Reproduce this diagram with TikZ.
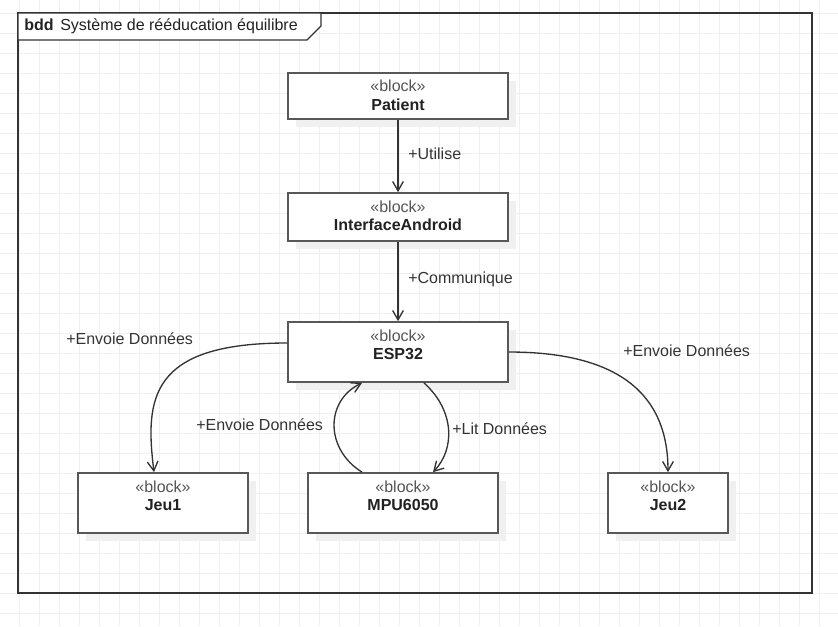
\documentclass[tikz,border=0pt]{standalone}
\usepackage{fontspec}
\setmainfont{Liberation Sans}
\usetikzlibrary{arrows.meta,shadows}
\definecolor{gridgray}{HTML}{F0F0F0}
\definecolor{shadowgray}{HTML}{F0F0F0}
\definecolor{boxline}{HTML}{585858}
\definecolor{wire}{HTML}{333333}
\definecolor{ink}{HTML}{222222}
\definecolor{stereo}{HTML}{555555}
\newcommand{\blk}[1]{\textcolor{stereo}{«block»}\\\textbf{#1}}
\begin{document}
\begin{tikzpicture}[x = 0.75pt, y = -0.75pt,
    font = \fontsize{12}{13.5}\selectfont, text = ink,
    block/.style = {draw = boxline, line width = 1.3pt, fill = white, inner sep = 0pt,
      general shadow = {fill = shadowgray, shadow xshift = 6pt, shadow yshift = -6pt}},
    blocktext/.style = {anchor = north, align = center, inner sep = 0pt, yshift = -6pt},
    assoc/.style = {draw = wire, line width = 1pt, -{Straight Barb[length = 7pt, width = 8pt]}},
    role/.style = {anchor = west, inner sep = 0pt, text = wire}]
      \useasboundingbox (0, 0) rectangle (838, 626);
      \foreach \x in {19, 39, ..., 839}{
        \draw [gridgray, line width = 0.7pt] (\x, 0) -- (\x, 626);
      }
      \foreach \y in {13, 33, ..., 613}{
        \draw [gridgray, line width = 0.7pt] (0, \y) -- (838, \y);
      }
      \draw [wire, line width = 1pt] (18, 13) rectangle (812, 593);
      \draw [wire, line width = 1pt, fill = white] (18, 13) -- (321, 13) -- (321, 26) -- (307, 40) -- (18, 40) -- cycle;
      \node [anchor = west, inner sep = 0pt] (title) at (24, 26) {\textbf{bdd}\hspace{5pt}Système de rééducation équilibre};
      \node [block, minimum width = 165pt, minimum height = 34.5pt, label = {[blocktext]north:\blk{Patient}}] (patient) at (398, 96) {};
      \node [block, minimum width = 165pt, minimum height = 36pt, label = {[blocktext]north:\blk{InterfaceAndroid}}] (android) at (398, 217) {};
      \node [block, minimum width = 165pt, minimum height = 45pt, label = {[blocktext]north:\blk{ESP32}}] (esp) at (398, 352) {};
      \node [block, minimum width = 127.5pt, minimum height = 45pt, label = {[blocktext]north:\blk{Jeu1}}] (jeu1) at (163, 503) {};
      \node [block, minimum width = 142.5pt, minimum height = 45pt, label = {[blocktext]north:\blk{MPU6050}}] (mpu) at (403, 503) {};
      \node [block, minimum width = 90pt, minimum height = 45pt, label = {[blocktext]north:\blk{Jeu2}}] (jeu2) at (668, 503) {};
      \draw [assoc] (patient) -- (android);
      \draw [assoc] (android) -- (esp);
      \draw [assoc] ([yshift = 6.75pt]esp.west) .. controls +(-138, 0) and +(-9, -73) .. ([xshift = -6.75pt]jeu1.north);
      \draw [assoc] (esp.east) .. controls +(103, 0) and +(0, -83) .. (jeu2.north);
      \draw [assoc] ([xshift = -30.75pt]mpu.north) .. controls +(-37, -23) and +(-37, 18) .. ([xshift = -27pt]esp.south);
      \draw [assoc] ([xshift = 19.5pt]esp.south) .. controls +(31, 28) and +(22, -23) .. ([xshift = 22.5pt]mpu.north);
      \node [role] (utilise) at (408, 154) {+Utilise};
      \node [role] (communique) at (408, 279) {+Communique};
      \node [role] (envoie1) at (66, 339) {+Envoie Données};
      \node [role] (envoie2) at (623, 351) {+Envoie Données};
      \node [role] (envoie3) at (196, 425) {+Envoie Données};
      \node [role] (lit) at (452, 429) {+Lit Données};
    \end{tikzpicture}
\end{document}
